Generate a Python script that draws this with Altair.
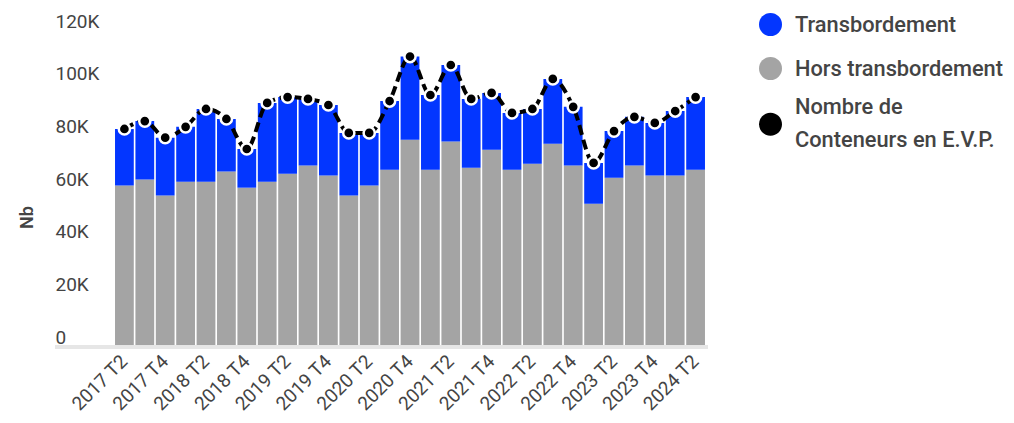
import altair as alt
import pandas as pd

trimestres = [
    "2017 T2", "2017 T3", "2017 T4",
    "2018 T1", "2018 T2", "2018 T3", "2018 T4",
    "2019 T1", "2019 T2", "2019 T3", "2019 T4",
    "2020 T1", "2020 T2", "2020 T3", "2020 T4",
    "2021 T1", "2021 T2", "2021 T3", "2021 T4",
    "2022 T1", "2022 T2", "2022 T3", "2022 T4",
    "2023 T1", "2023 T2", "2023 T3", "2023 T4",
    "2024 T1", "2024 T2",
]
hors_transbordement = [
    61300, 63600, 57500, 62800, 62800, 66600, 60500, 62800, 65800, 68900,
    65100, 57500, 61300, 67300, 78700, 67300, 78000, 68100, 74900, 67300,
    69600, 77200, 68900, 54400, 64300, 68900, 65100, 65100, 67300,
]
transbordement = [
    21500, 22200, 22000, 20800, 27600, 20000, 14700, 29900, 29100, 25300,
    26800, 23800, 20000, 26100, 31600, 28400, 29100, 26100, 21600, 21600,
    20800, 24600, 22300, 15500, 17700, 18500, 20000, 24500, 27600,
]
nombre_evp = [
    82800, 85800, 79500, 83600, 90400, 86600, 75200, 92700, 94900, 94200,
    91900, 81300, 81300, 93400, 110300, 95700, 107100, 94200, 96500, 88900,
    90400, 101800, 91200, 69900, 82000, 87400, 85100, 89600, 94900,
]
ticks_y = [0, 20000, 40000, 60000, 80000, 100000, 120000]

S_T = "Transbordement"
S_H = "Hors transbordement"
S_N = "Nombre de Conteneurs en E.V.P."
series_barres = [S_T, S_H]
couleurs = ["#0336ff", "#a4a4a4"]
couleur_ligne = "#000000"

rows = []
for q, h, t in zip(trimestres, hors_transbordement, transbordement):
    rows.append({"trimestre": q, "serie": S_H, "valeur": h, "ordre": 0})
    rows.append({"trimestre": q, "serie": S_T, "valeur": t, "ordre": 1})
df_bars = pd.DataFrame(rows)
df_line = pd.DataFrame({"trimestre": trimestres, "total": nombre_evp, "serie": S_N})

FONT = "Roboto"
TXT = "#444444"

x_enc = alt.X(
    "trimestre:N",
    sort=trimestres,
    title=None,
    scale=alt.Scale(paddingInner=0.08, paddingOuter=0.05),
    axis=alt.Axis(
        values=trimestres[::2],
        labelAngle=-45,
        labelAlign="right",
        labelBaseline="middle",
        labelPadding=11,
        labelFontSize=19,
        labelColor=TXT,
        labelFont=FONT,
        domain=False,
        ticks=False,
        grid=False,
    ),
)

y_scale = alt.Scale(domain=[0, 120000], nice=False)
y_axis = alt.Axis(
    values=ticks_y,
    labelExpr="datum.value == 0 ? '0' : (datum.value / 1000) + 'K'",
    labelAlign="left",
    labelBaseline="alphabetic",
    labelOffset=-4,
    labelPadding=59,
    tickSize=0,
    ticks=False,
    domain=False,
    grid=False,
    labelFontSize=19,
    labelColor=TXT,
    labelFont=FONT,
    title="Nb",
    titleFont=FONT,
    titleFontSize=18,
    titleFontWeight=600,
    titleColor=TXT,
    titleAngle=-90,
    titleX=-87,
    titleY=186,
    titleAlign="center",
    titleBaseline="middle",
)

common_leg = dict(
    orient="none",
    legendX=645,
    symbolSize=529,
    symbolStrokeWidth=0,
    symbolOpacity=1,
    labelFontSize=21.8,
    labelFontWeight=500,
    labelFont=FONT,
    labelColor=TXT,
    labelLimit=400,
    labelOffset=13,
    padding=0,
    title=None,
)

legende_barres = alt.Legend(legendY=-18, rowPadding=20, symbolType="circle", **common_leg)
legende_ligne = alt.Legend(
    legendY=64,
    labelExpr="['Nombre de', 'Conteneurs en E.V.P.']",
    **common_leg,
)

color_scale = alt.Scale(domain=series_barres, range=couleurs)
# circle shifted down so that it sits beside the middle of the two-line label
circle_bas = "M -1 1.55 A 1 1 0 1 0 1 1.55 A 1 1 0 1 0 -1 1.55 Z"
shape_scale = alt.Scale(domain=[S_N], range=[circle_bas])

bars = alt.Chart(df_bars).mark_bar().encode(
    x=x_enc,
    y=alt.Y("valeur:Q", stack="zero", scale=y_scale, axis=y_axis),
    color=alt.Color("serie:N", scale=color_scale, title=None, legend=legende_barres),
    order=alt.Order("ordre:Q", sort="ascending"),
)

baseline = alt.Chart(df_line).mark_rule(color="#e6e6e6", strokeWidth=3).encode(
    y=alt.datum(0),
    x=alt.value(-59),
    x2=alt.value(594),
)

line = alt.Chart(df_line).mark_line(
    color=couleur_ligne, strokeDash=[10, 5], strokeWidth=4, interpolate="monotone"
).encode(
    x=alt.X("trimestre:N", sort=trimestres),
    y=alt.Y("total:Q", scale=y_scale),
)

points = alt.Chart(df_line).mark_circle(
    color=couleur_ligne, stroke="white", strokeWidth=2.5, size=125, opacity=1
).encode(
    x=alt.X("trimestre:N", sort=trimestres),
    y=alt.Y("total:Q", scale=y_scale),
)

legend_layer = alt.Chart(df_line.head(1)).mark_point(
    filled=True, color=couleur_ligne, opacity=0
).encode(
    shape=alt.Shape("serie:N", scale=shape_scale, title=None, legend=legende_ligne),
)

chart = alt.layer(bars, baseline, line, points, legend_layer).properties(
    width=592,
    height=316,
    padding={"left": 106, "top": 23, "right": 300, "bottom": 76},
    autosize=alt.AutoSizeParams(type="none"),
    background="white",
).configure(
    view=alt.ViewConfig(stroke=None),
    style={"guide-label": {"lineHeight": 33}},
)

chart.save("out.html", embed_options={"renderer": "svg", "actions": False})
